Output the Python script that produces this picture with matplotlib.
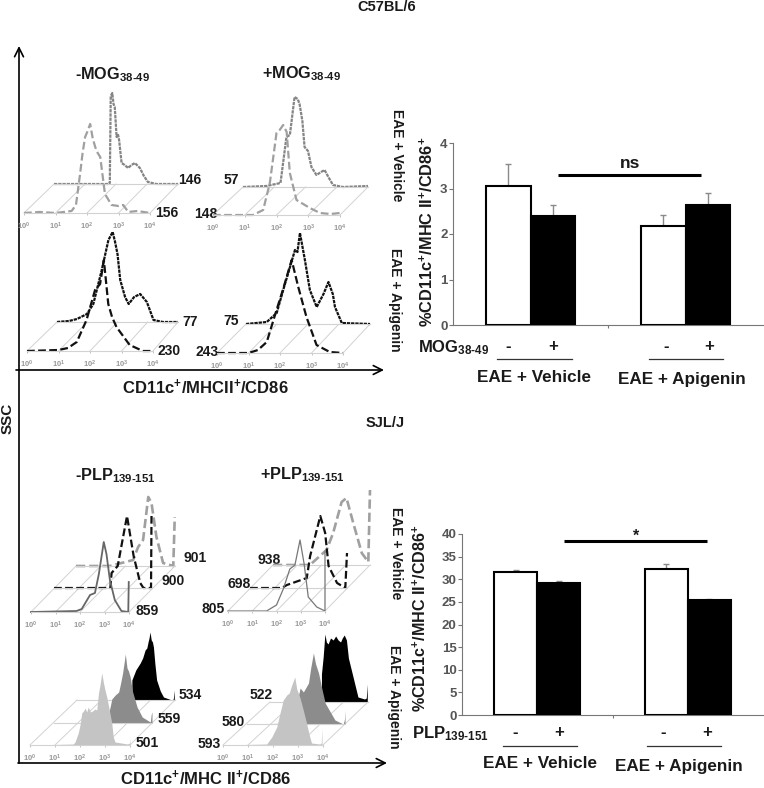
import matplotlib
matplotlib.use('Agg')
import matplotlib.pyplot as plt

plt.rcParams['font.family'] = ['Liberation Sans', 'DejaVu Sans']
plt.rcParams['font.weight'] = 'bold'
plt.rcParams['mathtext.fontset'] = 'custom'
plt.rcParams['mathtext.rm'] = 'Liberation Sans:bold'
plt.rcParams['mathtext.default'] = 'rm'

# bar chart values
mog_vals = [3.05, 2.40, 2.18, 2.63]
mog_errs = [0.48, 0.24, 0.24, 0.27]
plp_vals = [31.7, 29.2, 32.2, 25.4]
plp_errs = [0.4, 0.4, 1.2, 0.3]
decade_labels = ['$10^{0}$', '$10^{1}$', '$10^{2}$', '$10^{3}$', '$10^{4}$']

# histograms, x = log10 fluorescence, y = counts
# C57BL/6
a1_x = [0, 1.59, 1.75, 1.8, 1.83, 1.88, 1.92, 1.96, 2.02, 2.06, 2.1, 2.18, 2.28, 2.39, 2.5, 2.61, 2.77, 2.9, 3.03, 3.3, 4]
a1_y = [0, 0, 0, 1, 88, 91, 80, 77, 47, 50, 44, 21, 19, 16, 19, 21, 16, 8, 2, 0, 0]
a2_x = [0, 0.5, 1.0, 1.51, 1.65, 1.78, 1.86, 1.94, 2.02, 2.1, 2.18, 2.26, 2.34, 2.42, 2.57, 2.78, 3.0, 3.15, 3.31, 3.6, 4]
a2_y = [0, 1, 0, 2, 8, 39, 60, 76, 82, 89, 75, 66, 60, 56, 19, 8, 7, 8, 1, 2, 0]
b1_x = [0, 0.75, 0.9, 1.2, 1.39, 1.5, 1.65, 1.75, 1.81, 1.9, 1.97, 2.08, 2.19, 2.35, 2.5, 2.61, 2.75, 2.88, 3.2, 4]
b1_y = [0, 1, 2, 4, 50, 52, 90, 88, 83, 66, 40, 36, 20, 12, 15, 17, 9, 2, 0, 1]
b2_x = [0, 0.6, 1.26, 1.58, 1.79, 2.0, 2.1, 2.21, 2.32, 2.42, 2.63, 3.05, 3.37, 3.7, 4]
b2_y = [0, 0, 0, 5, 32, 82, 85, 90, 83, 42, 15, 7, 2, 1, 2]
c1_x = [0, 0.4, 0.66, 0.99, 1.2, 1.48, 1.7, 1.84, 1.92, 2.0, 2.09, 2.25, 2.37, 2.55, 2.75, 2.97, 3.19, 3.5, 4]
c1_y = [0, 1, 3, 8, 18, 52, 82, 90, 80, 68, 42, 25, 18, 25, 28, 20, 2, 0, 0]
c2_x = [0, 1, 1.3, 1.58, 1.89, 2.16, 2.32, 2.44, 2.58, 2.7, 2.84, 3.26, 3.68, 4]
c2_y = [0, 1, 3, 9, 31, 61, 67, 91, 47, 34, 24, 6, 0, 0]
d1_x = [0, 0.67, 0.99, 1.2, 1.58, 1.66, 1.74, 1.9, 2.06, 2.28, 2.5, 2.66, 2.8, 2.87, 3.09, 4]
d1_y = [0, 2, 11, 34, 74, 72, 91, 64, 34, 17, 30, 42, 30, 17, 1, 0]
d2_x = [0, 1, 1.3, 1.58, 1.89, 2.1, 2.37, 2.58, 2.84, 3.16, 3.58, 4]
d2_y = [0, 0, 3, 11, 43, 64, 93, 66, 36, 8, 1, 0]
# SJL/J, open curves
e1_x = [0, 1.86, 2.07, 2.41, 2.61, 2.77, 2.97, 3.08, 3.22, 3.42, 3.69, 3.97, 3.99]
e1_y = [0, 1, 3, 17, 19, 38, 70, 58, 32, 12, 1, 0, 30]
e2_x = [0, 2.3, 2.35, 2.6, 2.98, 3.25, 3.52, 3.65, 3.96, 3.98]
e2_y = [0, 0, 15, 22, 72, 32, 5, 0, 0, 72]
e3_x = [0, 1.37, 2.31, 2.51, 2.71, 2.92, 3.05, 3.25, 3.52, 3.93, 3.99]
e3_y = [0, 0, 6, 19, 26, 69, 63, 29, 3, 0, 49]
f1_x = [0, 1.59, 2.0, 2.28, 2.55, 2.76, 2.97, 3.14, 3.31, 3.66, 4, 4]
f1_y = [0, 0, 6, 22, 42, 46, 71, 47, 14, 4, 0, 60]
f2_x = [0, 1.31, 1.52, 2.34, 2.48, 2.9, 3.1, 3.24, 3.59, 3.93, 4]
f2_y = [0, 0, 3, 10, 32, 72, 55, 22, 5, 0, 35]
f3_x = [0, 1.52, 2.21, 2.48, 2.83, 3.03, 3.31, 3.66, 3.93, 4]
f3_y = [0, 0, 15, 32, 63, 67, 42, 12, 3, 75]
# SJL/J, filled curves
g1_x = [0, 1.73, 1.8, 1.93, 2.0, 2.07, 2.14, 2.2, 2.27, 2.33, 2.42, 2.5, 2.6, 2.67, 2.74, 2.8, 2.87, 2.94, 3.0, 3.07, 3.15, 3.27, 3.33, 3.4, 3.9, 3.98, 4]
g1_y = [0, 1, 3, 12, 20, 32, 34, 37, 33, 38, 33, 34, 36, 35, 52, 60, 72, 62, 55, 48, 38, 22, 8, 3, 1, 2, 7]
g2_x = [0, 2.16, 2.22, 2.36, 2.5, 2.64, 2.72, 2.8, 2.86, 2.91, 2.98, 3.04, 3.11, 3.2, 3.39, 3.6, 3.93, 3.97, 4]
g2_y = [0, 1, 8, 24, 28, 31, 40, 50, 60, 69, 55, 52, 46, 32, 16, 6, 1, 9, 11]
g3_x = [0, 2.24, 2.24, 2.4, 2.58, 2.68, 2.78, 2.85, 2.9, 2.94, 2.98, 3.03, 3.08, 3.12, 3.18, 3.25, 3.4, 3.53, 3.87, 3.93, 3.97]
g3_y = [0, 0, 20, 30, 37, 42, 50, 52, 58, 62, 68, 60, 58, 53, 36, 20, 9, 3, 0, 1, 10]
h1_x = [0, 1.75, 1.95, 2.15, 2.3, 2.41, 2.55, 2.65, 2.75, 2.87, 2.95, 3.07, 3.2, 3.34, 3.45, 3.54, 3.87, 3.93, 3.96]
h1_y = [0, 1, 8, 18, 34, 45, 50, 52, 60, 68, 56, 48, 36, 22, 10, 2, 1, 2, 17]
h2_x = [0, 1.9, 2.02, 2.17, 2.3, 2.51, 2.6, 2.71, 2.8, 2.92, 3.05, 3.19, 3.4, 3.59, 3.93, 3.98, 4]
h2_y = [0, 1, 20, 36, 32, 41, 56, 71, 60, 51, 36, 21, 12, 4, 0, 5, 14]
h3_x = [0, 2.1, 2.1, 2.17, 2.24, 2.3, 2.37, 2.47, 2.58, 2.68, 2.78, 2.88, 2.95, 3.03, 3.12, 3.2, 3.39, 3.59, 3.86, 3.93, 3.97]
h3_y = [0, 0, 28, 45, 68, 60, 58, 64, 62, 66, 62, 60, 64, 67, 62, 44, 25, 5, 3, 4, 18]

W, H = 764, 788
fig = plt.figure(figsize=(W / 100, H / 100), dpi=100, facecolor='white')

bg = fig.add_axes([0, 0, 1, 1], zorder=0)
bg.set_xlim(0, W)
bg.set_ylim(H, 0)
bg.axis('off')

def px_axes(x0, x1, ybase, height, zorder=1):
    return fig.add_axes([x0 / W, 1 - ybase / H, (x1 - x0) / W, height / H], zorder=zorder)

GRID = '#d2d2d2'
DASH = (0, (3.5, 1.5))
DOT = (0, (1.5, 0.4))

def curve(x0, x1, ybase, xs, ys, color, ls='-', lw=1.6, fill=None, ticks=False, z=1):
    ax = px_axes(x0, x1, ybase, 100, z)
    ax.patch.set_alpha(0)
    ax.set_xlim(0, 4)
    ax.set_ylim(0, 100)
    for s in ['top', 'left', 'right']:
        ax.spines[s].set_visible(False)
    ax.spines['bottom'].set_color(GRID)
    ax.spines['bottom'].set_linewidth(0.8)
    ax.set_yticks([])
    if ticks:
        ax.set_xticks(range(5), decade_labels)
        ax.tick_params(axis='x', length=1.5, width=0.5, color='#aaaaaa', labelsize=5.5,
                       labelcolor='#999999', pad=4)
    else:
        ax.set_xticks([])
    if fill:
        ax.fill_between(xs, ys, 0, color=fill, lw=0)
    else:
        ax.plot(xs, ys, color=color, ls=ls, lw=lw, clip_on=False)

def floor(x0, x1, y0, bx0, bx1, by):
    # perspective lines between the front and back histogram
    for i in range(5):
        bg.plot([x0 + (x1 - x0) * i / 4, bx0 + (bx1 - bx0) * i / 4], [y0, by], color=GRID, lw=0.7)

GRAY = '#858585'
LGRAY = '#a0a0a0'
BLACK = '#111111'

# C57BL/6 panels: back curve first, front on top
floor(24, 150, 213, 54, 178, 184)
curve(54, 178, 184, a1_x, a1_y, GRAY, DOT, z=1)
curve(24, 150, 213, a2_x, a2_y, LGRAY, DASH, ticks=True, z=2)
floor(213, 340, 215, 243, 368, 187)
curve(243, 368, 187, b1_x, b1_y, GRAY, DOT, z=1)
curve(213, 340, 215, b2_x, b2_y, LGRAY, DASH, ticks=True, z=2)
floor(27, 153, 351, 57, 178, 322)
curve(57, 178, 322, c1_x, c1_y, BLACK, DOT, z=1)
curve(27, 153, 351, c2_x, c2_y, BLACK, DASH, ticks=True, z=2)
floor(217, 343, 353, 246, 370, 324)
curve(246, 370, 324, d1_x, d1_y, BLACK, DOT, z=1)
curve(217, 343, 353, d2_x, d2_y, BLACK, DASH, ticks=True, z=2)

# SJL/J panels
floor(31, 129, 612, 76, 175, 566)
curve(76, 175, 566, e3_x, e3_y, LGRAY, DASH, 1.9, z=1)
curve(54, 152, 588, e2_x, e2_y, BLACK, DASH, z=2)
curve(31, 129, 612, e1_x, e1_y, '#666666', '-', 1.3, ticks=True, z=3)
floor(228, 325, 611, 273, 370, 565)
curve(273, 370, 565, f3_x, f3_y, LGRAY, DASH, 1.9, z=1)
curve(250, 347, 588, f2_x, f2_y, BLACK, DASH, z=2)
curve(228, 325, 611, f1_x, f1_y, '#777777', '-', 0.9, ticks=True, z=3)
floor(30, 130, 745, 77, 175, 700)
curve(77, 175, 700, g3_x, g3_y, None, fill='#000000', z=1)
curve(54, 152, 723, g2_x, g2_y, None, fill='#8c8c8c', z=2)
curve(30, 130, 745, g1_x, g1_y, None, fill='#c4c4c4', ticks=True, z=3)
floor(223, 323, 745, 270, 368, 702)
curve(270, 368, 702, h3_x, h3_y, None, fill='#000000', z=1)
curve(247, 345, 724, h2_x, h2_y, None, fill='#8c8c8c', z=2)
curve(223, 323, 745, h1_x, h1_y, None, fill='#c4c4c4', ticks=True, z=3)

# bar charts
def bars(x0, x1, ybase, ytop, vals, errs, ymax, yticks):
    ax = px_axes(x0, x1, ybase, ybase - ytop, 5)
    ax.patch.set_alpha(0)
    w = 0.287
    xpos = [-w / 2, w / 2, 1 - w / 2, 1 + w / 2]
    cols = ['white', 'black', 'white', 'black']
    ax.bar(xpos, vals, w, color=cols, edgecolor='black', lw=1.5, zorder=3)
    ax.errorbar(xpos, vals, yerr=[[0] * 4, errs], fmt='none', ecolor='#8a8a8a', elinewidth=1,
                capsize=2, capthick=1, zorder=2)
    ax.set_xlim(-0.5, 1.5)
    ax.set_ylim(0, ymax)
    ax.set_yticks(yticks)
    ax.set_xticks([0.5], [''])
    for s in ['top', 'right']:
        ax.spines[s].set_visible(False)
    for s in ['left', 'bottom']:
        ax.spines[s].set_color('#777777')
    ax.tick_params(axis='y', length=3, color='#777777', labelsize=9.5, labelcolor='#555555', pad=1)
    ax.tick_params(axis='x', length=2, color='#777777')

bars(453, 763, 325, 143, mog_vals, mog_errs, 4, [0, 1, 2, 3, 4])
bars(462, 763, 715, 534, plp_vals, plp_errs, 40, list(range(0, 41, 5)))

# main axes arrows
def arrow(x0, y0, x1, y1):
    bg.annotate('', xy=(x1, y1), xytext=(x0, y0),
                arrowprops=dict(arrowstyle='->', color='black', lw=1.2, mutation_scale=16,
                                shrinkA=0, shrinkB=0))

arrow(19, 763, 19, 46)
arrow(16, 370, 384, 370)
arrow(18, 763, 387, 763)

def label(x, y, s, size=10.5, ha='center', color='#1a1a1a', rot=0):
    bg.text(x, y, s, fontsize=size, ha=ha, va='center', color=color, rotation=rot,
            rotation_mode='anchor' if rot == 0 else 'default')

label(387, 7, 'C57BL/6')
label(385, 423, 'SJL/J')
label(8, 418, 'SSC', 11, rot=90)
label(75, 75, r'-MOG$_{38\text{-}49}$', 11.7, 'left')
label(262, 74, r'+MOG$_{38\text{-}49}$', 11.7, 'left')
label(75, 476, r'-PLP$_{139\text{-}151}$', 11.7, 'left')
label(260, 475, r'+PLP$_{139\text{-}151}$', 11.7, 'left')
label(205, 387, r'CD11c$^{+}$/MHCII$^{+}$/CD86', 12)
label(206, 778, r'CD11c$^{+}$/MHC II$^{+}$/CD86', 12)

# event counts next to the histograms
count_labels = ['146', '156', '57', '148', '77', '75', '230', '243',
                '901', '900', '859', '938', '698', '805',
                '534', '559', '501', '522', '580', '593']
count_x = [178, 155, 224, 194, 182, 223, 157, 195,
           183, 161, 136, 257, 228, 202,
           179, 158, 136, 250, 222, 198]
count_y = [180, 213, 180, 214, 322, 321, 351, 352,
           558, 581, 611, 560, 584, 609,
           695, 719, 743, 695, 722, 744]
for s, x, y in zip(count_labels, count_x, count_y):
    label(x, y, s, 10, 'left')

label(397, 155, 'EAE + Vehicle', 10, rot=-90)
label(395, 300, 'EAE + Apigenin', 10, rot=-90)
label(396, 553, 'EAE + Vehicle', 10, rot=-90)
label(394, 697, 'EAE + Apigenin', 10, rot=-90)

label(427, 232, r'%CD11c$^{+}$/MHC II$^{+}$/CD86$^{+}$', 11.8, rot=90)
label(420, 618, r'%CD11c$^{+}$/MHC II$^{+}$/CD86$^{+}$', 11.6, rot=90)

# group labels under the bars
label(418, 348, r'MOG$_{38\text{-}49}$', 12, 'left')
label(412, 734, r'PLP$_{139\text{-}151}$', 12, 'left')
for x, s in zip([508, 553, 666, 709], ['-', '+', '-', '+']):
    label(x, 346, s, 12)
for x, s in zip([515, 559, 663, 707], ['-', '+', '-', '+']):
    label(x, 733, s, 12)
bg.plot([497, 572], [359, 359], color='#333333', lw=0.9)
bg.plot([649, 723], [359, 359], color='#333333', lw=0.9)
bg.plot([503, 577], [746, 746], color='#333333', lw=0.9)
bg.plot([647, 721], [746, 746], color='#333333', lw=0.9)
label(534, 377, 'EAE + Vehicle', 12.3)
label(682, 379, 'EAE + Apigenin', 12.3)
label(540, 763, 'EAE + Vehicle', 12.3)
label(679, 766, 'EAE + Apigenin', 12.3)

label(630, 163, 'ns', 12.5)
bg.plot([558, 701], [175, 175], color='black', lw=2.2, solid_capstyle='butt')
label(636, 536, '*', 11.5)
bg.plot([564, 707], [541, 541], color='black', lw=2.2, solid_capstyle='butt')

fig.savefig('out.png', dpi=100)
